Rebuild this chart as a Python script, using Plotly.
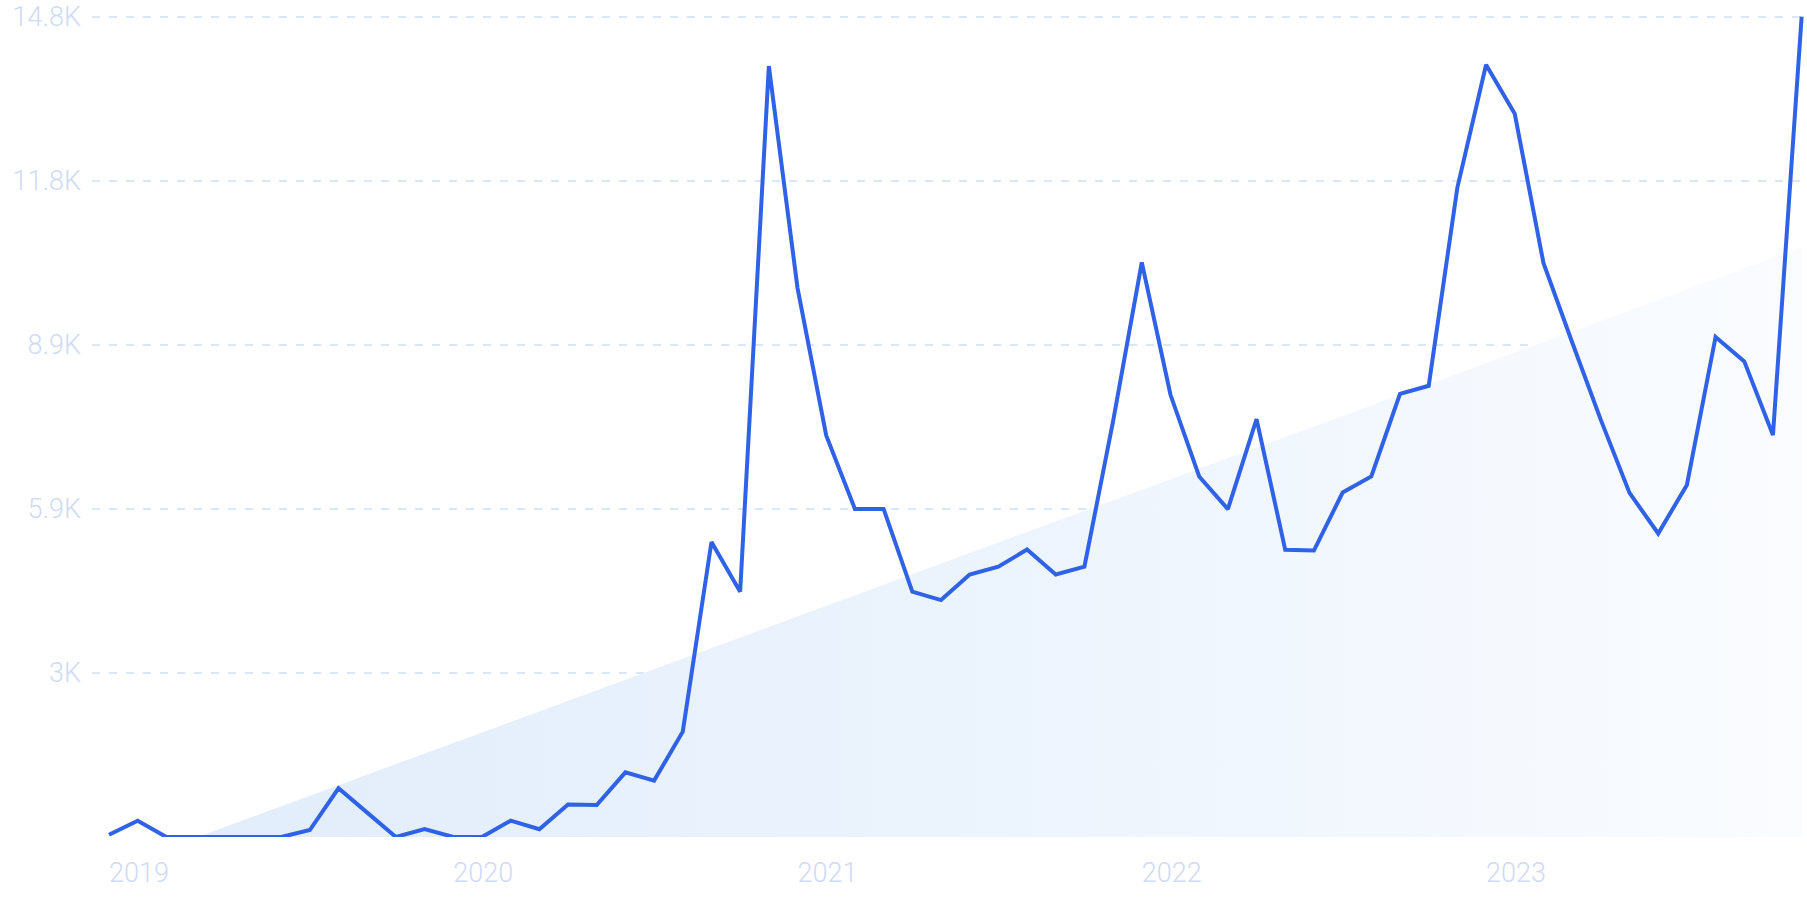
import numpy as np
import plotly.graph_objects as go

# ---- data (monthly, Jan 2019 .. Dec 2023) ----
month_index = list(range(60))
searches = [40, 294, 0, 0, 0, 0, 0, 126, 879, 440, 0, 144,
            0, 0, 294, 139, 585, 578, 1167, 1017, 1900, 5322, 4425, 13907,
            9902, 7243, 5918, 5918, 4425, 4274, 4736, 4875, 5185, 4736, 4875, 7500,
            10365, 7977, 6503, 5914, 7538, 5180, 5167, 6214, 6503, 7995, 8139, 11716,
            13931, 13045, 10356, 8925, 7525, 6207, 5475, 6350, 9020, 8580, 7250, 14800]
year_tick_index = [0, 12, 24, 36, 48]
year_labels = ["2019", "2020", "2021", "2022", "2023"]
y_tick_values = [2960, 5920, 8880, 11840, 14800]
y_tick_labels = ["3K", "5.9K", "8.9K", "11.8K", "14.8K"]

# ---- linear trend (regression of the series), clipped at zero ----
idx = np.array(month_index, dtype=float)
slope, intercept = np.polyfit(idx, np.array(searches, dtype=float), 1)
x_zero = -intercept / slope
mask = idx > x_zero
trend_x = [x_zero] + list(idx[mask])
trend_y = [0.0] + list(slope * idx[mask] + intercept)

fig = go.Figure()
fig.add_trace(go.Scatter(
    x=trend_x, y=trend_y, mode="lines", line=dict(width=0),
    fill="tozeroy",
    fillgradient=dict(type="horizontal",
                      colorscale=[[0, "rgb(226,237,251)"], [0.5, "rgb(236,244,253)"],
                                  [1, "rgb(250,252,255)"]]),
    hoverinfo="skip", showlegend=False))
fig.add_trace(go.Scatter(
    x=month_index, y=searches, mode="lines",
    line=dict(color="#2f62e6", width=4),
    showlegend=False))

tick_font = dict(family="Roboto", size=27, color="#cfdaf5", weight=300)

fig.update_layout(
    width=1807, height=903,
    margin=dict(l=92, r=2, t=11, b=66),
    paper_bgcolor="white", plot_bgcolor="white",
    font=tick_font,
    xaxis=dict(range=[-0.5925, 59.117], tickvals=year_tick_index, ticktext=year_labels,
               showgrid=False, zeroline=False, showline=False, ticks="",
               ticklabelposition="outside right", ticklabelstandoff=17,
               tickfont=tick_font),
    yaxis=dict(range=[0, 14900], tickvals=y_tick_values, ticktext=y_tick_labels,
               showgrid=True, gridcolor="#d8e8f7", gridwidth=1.5, griddash="8px,9px",
               zeroline=False, showline=False, ticks="", ticklabelstandoff=10,
               tickfont=tick_font),
)

fig.write_html("out.html")
